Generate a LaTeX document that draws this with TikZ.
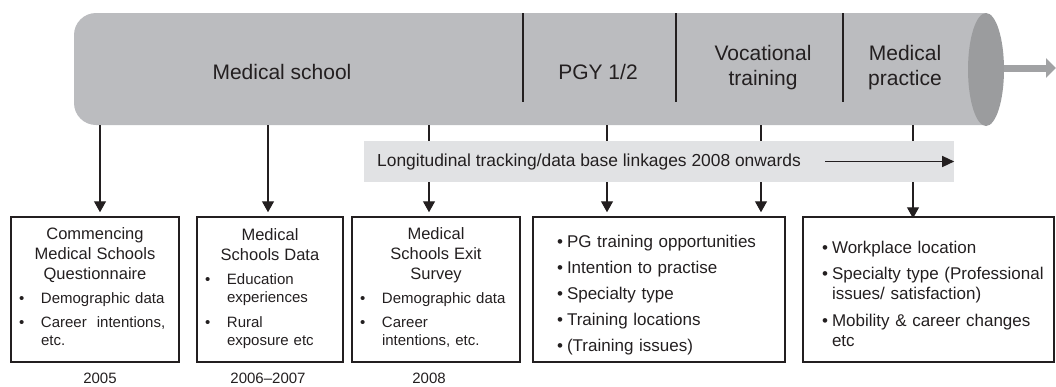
\documentclass[tikz,border=0pt]{standalone}
\usepackage{fontspec}
\setmainfont{Liberation Sans}
\usetikzlibrary{arrows.meta}
\definecolor{tubebody}{HTML}{BBBCBF}
\definecolor{tubeend}{HTML}{9B9C9E}
\definecolor{bandgrey}{HTML}{E1E2E4}
\definecolor{flowgrey}{HTML}{A1A2A4}
\definecolor{inkblack}{HTML}{231F20}

% bullet list items, continuation lines kept under the first
\newlength{\bulw}
\newcommand{\bitem}[1]{\par\vspace{6pt}\noindent\makebox[\bulw][l]{\textbullet}%
  \begin{tabular}[t]{@{}l@{}}#1\end{tabular}\par}
\newcommand{\boxhead}[1]{{\centering\fontsize{16.5}{20}\selectfont #1\par}}

\begin{document}
\begin{tikzpicture}[x=1pt,y=1pt,
  stage/.style={font=\fontsize{21}{25}\selectfont,text=inkblack,align=center,inner sep=0pt},
  feed/.style={draw=inkblack,line width=1.3pt,shorten >=4pt,-{Triangle[width=12pt,length=11pt]}},
  infobox/.style={draw=inkblack,line width=1.5pt,minimum height=145,text=inkblack,align=left,inner ysep=0pt},
  smallbox/.style={infobox,inner xsep=8pt,font=\fontsize{15}{18}\selectfont,execute at begin node={\setlength{\bulw}{22pt}}},
  widebox/.style={infobox,font=\fontsize{17}{20}\selectfont,execute at begin node={\setlength{\bulw}{10pt}}},
  yr/.style={font=\fontsize{15}{18}\selectfont,text=inkblack,anchor=base,inner sep=0pt}]
\useasboundingbox (0,0) rectangle (1056,-386);
% the tube of stages
\fill[tubebody] (986,-13) -- (96,-13) arc[start angle=90,end angle=180,radius=22]
  -- (74,-103) arc[start angle=180,end angle=270,radius=22] -- (986,-125) -- cycle;
\fill[tubeend] (986,-69.5) ellipse[x radius=18,y radius=56.5];
\coordinate (flowstart) at (1004,-68);
\coordinate (flowend) at (1056,-68);
\draw[flowgrey,line width=7pt,-{Triangle[width=19pt,length=10pt]}] (flowstart) -- (flowend);
\foreach \x in {523,676,843}
  \draw[inkblack,line width=1.3pt] (\x,-13) -- (\x,-102);
\node[stage] (school) at (282,-72) {Medical school};
\node[stage] (pgy) at (598,-72) {PGY 1/2};
\node[stage] (voc) at (763,-67.5) {Vocational\\training};
\node[stage] (prac) at (905,-67.5) {Medical\\practice};
% taps on the bottom of the tube
\coordinate (t1) at (100,-125);
\coordinate (t2) at (268,-125);
\coordinate (t3) at (429,-125);
\coordinate (t4) at (607,-125);
\coordinate (t5) at (761,-125);
\coordinate (t6) at (913,-125);
% data sources
\node[smallbox,text width=152] (cmsq) at (95,-289.5) {%
  \boxhead{Commencing\\Medical Schools\\Questionnaire}
  \bitem{Demographic data}
  \bitem{Career\ \ intentions,\\etc.}};
\node[smallbox,text width=130] (msd) at (270,-289.5) {%
  \boxhead{Medical\\Schools Data}
  \bitem{Education\\experiences}
  \bitem{Rural\\exposure etc}};
\node[smallbox,text width=152] (mses) at (436,-289.5) {%
  \boxhead{Medical\\Schools Exit\\Survey}
  \bitem{Demographic data}
  \bitem{Career\\intentions, etc.}};
\node[widebox,inner xsep=24pt,text width=204] (pgbox) at (659,-289.5) {%
  \bitem{PG training opportunities}
  \bitem{Intention to practise}
  \bitem{Specialty type}
  \bitem{Training locations}
  \bitem{(Training issues)}};
\node[widebox,inner xsep=19pt,text width=213] (workbox) at (928.5,-289.5) {%
  \bitem{Workplace location}
  \bitem{Specialty type (Professional\\issues/ satisfaction)}
  \bitem{Mobility \& career changes\\etc}};
\draw[feed] (t1) -- (t1 |- cmsq.north);
\draw[feed] (t2) -- (t2 |- msd.north);
\draw[feed] (t3) -- (t3 |- mses.north);
\draw[feed] (t4) -- (t4 |- pgbox.north);
\draw[feed] (t5) -- (t5 |- pgbox.north);
\draw[feed,shorten >=-2pt] (t6) -- (t6 |- workbox.north);
% tracking band over the taps
\node[fill=bandgrey,minimum width=590,minimum height=41,inner sep=0pt] (band) at (659,-161.5) {};
\node[anchor=west,font=\fontsize{17.4}{20}\selectfont,text=inkblack,inner sep=0pt] (track) at (377,-161.5)
  {Longitudinal tracking/data base linkages 2008 onwards};
\draw[inkblack,line width=1.3pt,-{Triangle[width=11pt,length=12pt]}] ([xshift=24pt]track.east) -- (band.east);
% years
\coordinate (yrline) at (0,-383.5);
\node[yr] (y05) at (t1 |- yrline) {2005};
\node[yr] (y0607) at (t2 |- yrline) {2006--2007};
\node[yr] (y08) at (t3 |- yrline) {2008};
\end{tikzpicture}
\end{document}
